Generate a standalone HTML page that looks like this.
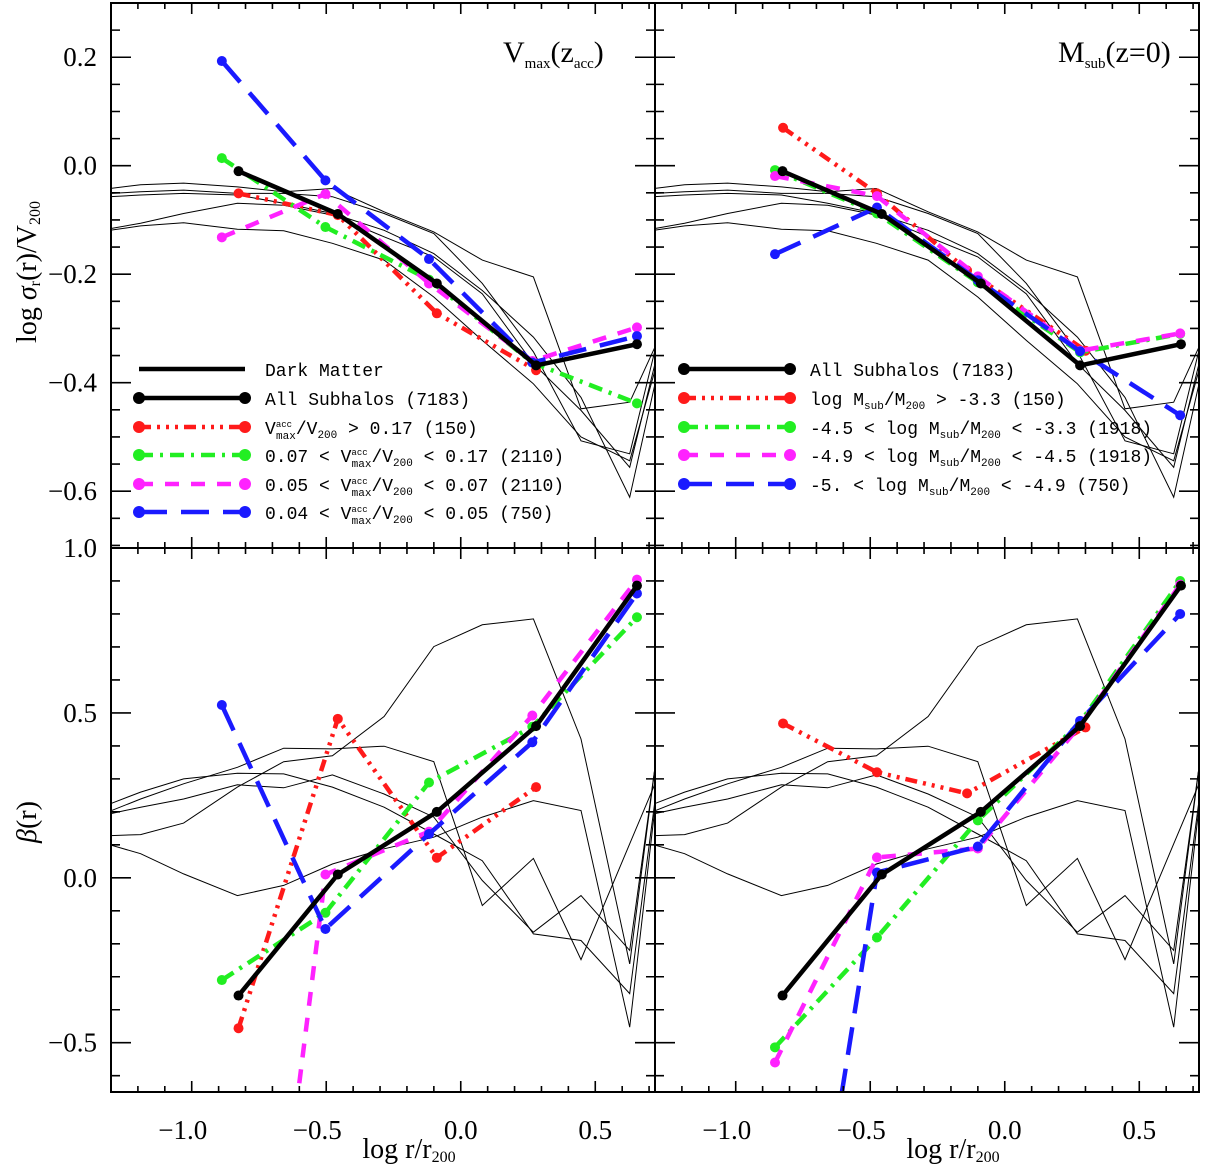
<!DOCTYPE html>
<html><head><meta charset="utf-8"><style>
html,body{margin:0;padding:0;background:#fff;overflow:hidden;width:1205px;height:1166px;}
svg{display:block;font-family:"Liberation Serif","DejaVu Serif",serif;}
</style></head><body>
<svg id="chart" width="1205" height="1166" viewBox="0 0 1205 1166" xmlns="http://www.w3.org/2000/svg"></svg>
<script>
// ---- data ----
const dmX = [-1.304,-1.19,-1.03,-0.83,-0.658,-0.477,-0.285,-0.1,0.08,0.27,0.447,0.628,0.722];
const dmSigma1 = [-0.042,-0.035,-0.032,-0.039,-0.048,-0.042,-0.085,-0.122,-0.174,-0.205,-0.448,-0.436,-0.334];
const dmSigma2 = [-0.051,-0.048,-0.045,-0.051,-0.051,-0.057,-0.088,-0.125,-0.217,-0.343,-0.507,-0.531,-0.340];
const dmSigma3 = [-0.057,-0.054,-0.051,-0.054,-0.069,-0.088,-0.119,-0.162,-0.230,-0.316,-0.427,-0.611,-0.402];
const dmSigma4 = [-0.116,-0.106,-0.088,-0.069,-0.073,-0.091,-0.131,-0.168,-0.236,-0.365,-0.451,-0.556,-0.365];
const dmSigma5 = [-0.119,-0.111,-0.105,-0.117,-0.120,-0.143,-0.174,-0.242,-0.322,-0.402,-0.500,-0.544,-0.377];
const dmBeta1 = [0.128,0.131,0.166,0.275,0.352,0.370,0.489,0.701,0.767,0.785,0.421,-0.261,0.335];
const dmBeta2 = [0.224,0.260,0.300,0.317,0.315,0.275,0.214,0.133,0.052,-0.170,-0.190,-0.351,0.234];
const dmBeta3 = [0.194,0.214,0.239,0.282,0.273,0.312,0.254,0.184,-0.008,-0.165,-0.054,-0.220,0.335];
const dmBeta4 = [0.202,0.239,0.285,0.335,0.393,0.391,0.399,0.352,-0.084,0.059,-0.248,0.103,0.285];
const dmBeta5 = [0.100,0.073,0.012,-0.054,-0.023,0.042,0.088,0.123,0.184,0.234,0.204,-0.453,0.214];

// Vmax panels
const allX = [-0.826,-0.457,-0.089,0.28,0.655];
const allSigma = [-0.010,-0.089,-0.217,-0.368,-0.329];
const allBeta = [-0.357,0.010,0.200,0.460,0.886];
const vRedX = [-0.826,-0.457,-0.089,0.28];
const vRedSigma = [-0.051,-0.091,-0.272,-0.377];
const vRedBeta = [-0.456,0.482,0.061,0.275];
const vX = [-0.888,-0.503,-0.118,0.266,0.655];
const vGreenSigma = [0.014,-0.113,-0.210,-0.363,-0.438];
const vGreenBeta = [-0.31,-0.106,0.289,0.458,0.79];
const vMagentaSigma = [-0.132,-0.052,-0.217,-0.360,-0.298];
const vMagentaBeta = [-2.5,0.010,0.140,0.492,0.904];
const vBlueSigma = [0.193,-0.027,-0.172,-0.363,-0.314];
const vBlueBeta = [0.524,-0.155,0.133,0.411,0.862];

// Msub panels
const mRedX = [-0.824,-0.475,-0.14,0.30];
const mRedSigma = [0.070,-0.051,-0.193,-0.341];
const mRedBeta = [0.468,0.320,0.256,0.456];
const mX = [-0.854,-0.475,-0.10,0.28,0.652];
const mGreenSigma = [-0.008,-0.088,-0.215,-0.344,-0.310];
const mGreenBeta = [-0.514,-0.181,0.174,0.471,0.900];
const mMagentaSigma = [-0.019,-0.056,-0.204,-0.341,-0.309];
const mMagentaBeta = [-0.56,0.062,0.089,0.462,0.889];
const mBlueSigma = [-0.163,-0.077,-0.211,-0.342,-0.460];
const mBlueBeta = [-1.92,0.016,0.095,0.476,0.800];

const xTickLabels = ["\u22121.0","\u22120.5","0.0","0.5"];
const xTickValues = [-1.0,-0.5,0.0,0.5];
const sigmaTickValues = [-0.6,-0.4,-0.2,0.0,0.2];
const sigmaTickLabels = ["\u22120.6","\u22120.4","\u22120.2","0.0","0.2"];
const betaTickValues = [-0.5,0.0,0.5,1.0];
const betaTickLabels = ["\u22120.5","0.0","0.5","1.0"];

// ---- drawing ----
const NS="http://www.w3.org/2000/svg";
const svg=document.getElementById('chart');
function mk(tag,attrs,parent){const e=document.createElementNS(NS,tag);for(const k in attrs)e.setAttribute(k,attrs[k]);(parent||svg).appendChild(e);return e;}

const XMIN=-1.3,XMAX=0.722;
const panels={
 tl:{x0:111,x1:655,y0:3,y1:548,ymin:-0.7047,ymax:0.3},
 tr:{x0:655,x1:1199,y0:3,y1:548,ymin:-0.7047,ymax:0.3},
 bl:{x0:111,x1:655,y0:548,y1:1092,ymin:-0.6494,ymax:1.0},
 br:{x0:655,x1:1199,y0:548,y1:1092,ymin:-0.6494,ymax:1.0}
};
function sx(p,v){return p.x0+(v-XMIN)/(XMAX-XMIN)*(p.x1-p.x0);}
function sy(p,v){return p.y1-(v-p.ymin)/(p.ymax-p.ymin)*(p.y1-p.y0);}

const defs=mk('defs',{});
for(const k in panels){const p=panels[k];const c=mk('clipPath',{id:'clip-'+k},defs);mk('rect',{x:p.x0,y:p.y0,width:p.x1-p.x0,height:p.y1-p.y0},c);}

const styles={
 black:{c:'#000',d:''},
 red:{c:'#ff1a1a',d:'12,6,3,6,3,6,3,6'},
 green:{c:'#22ee22',d:'14,7,3,7'},
 magenta:{c:'#ff22ff',d:'14,12'},
 blue:{c:'#1a1aff',d:'28,14'}
};

function drawThin(k,xs,ys,name){
 const p=panels[k];
 const pts=xs.map((x,i)=>sx(p,x).toFixed(1)+','+sy(p,ys[i]).toFixed(1)).join(' ');
 const l=mk('polyline',{points:pts,fill:'none',stroke:'#000','stroke-width':1,'clip-path':'url(#clip-'+k+')'});
 
 
}
function drawSeries(k,xs,ys,st,name){
 const p=panels[k];const s=styles[st];
 const g=mk('g',{'clip-path':'url(#clip-'+k+')'});
 
 
 const pts=xs.map((x,i)=>sx(p,x).toFixed(1)+','+sy(p,ys[i]).toFixed(1)).join(' ');
 const a={points:pts,fill:'none',stroke:s.c,'stroke-width':4.5,'stroke-linejoin':'round'};
 if(s.d)a['stroke-dasharray']=s.d;
 mk('polyline',a,g);
 xs.forEach((x,i)=>{const m=mk('circle',{cx:sx(p,x),cy:sy(p,ys[i]),r:5,fill:s.c},g);
  
  });
}

const dmS=[dmSigma1,dmSigma2,dmSigma3,dmSigma4,dmSigma5];
const dmB=[dmBeta1,dmBeta2,dmBeta3,dmBeta4,dmBeta5];
['tl','tr'].forEach(k=>dmS.forEach((a,i)=>drawThin(k,dmX,a,'dark-matter-sigma-'+(i+1))));
['bl','br'].forEach(k=>dmB.forEach((a,i)=>drawThin(k,dmX,a,'dark-matter-beta-'+(i+1))));

drawSeries('tl',vRedX,vRedSigma,'red','vmax-high-sigma');
drawSeries('tl',vX,vGreenSigma,'green','vmax-mid-sigma');
drawSeries('tl',vX,vMagentaSigma,'magenta','vmax-low-sigma');
drawSeries('tl',vX,vBlueSigma,'blue','vmax-lowest-sigma');
drawSeries('tl',allX,allSigma,'black','all-subhalos-sigma');
drawSeries('bl',vRedX,vRedBeta,'red','vmax-high-beta');
drawSeries('bl',vX,vGreenBeta,'green','vmax-mid-beta');
drawSeries('bl',vX,vMagentaBeta,'magenta','vmax-low-beta');
drawSeries('bl',vX,vBlueBeta,'blue','vmax-lowest-beta');
drawSeries('bl',allX,allBeta,'black','all-subhalos-beta');
drawSeries('tr',mRedX,mRedSigma,'red','msub-high-sigma');
drawSeries('tr',mX,mGreenSigma,'green','msub-mid-sigma');
drawSeries('tr',mX,mMagentaSigma,'magenta','msub-low-sigma');
drawSeries('tr',mX,mBlueSigma,'blue','msub-lowest-sigma');
drawSeries('tr',allX,allSigma,'black','all-subhalos-sigma-msub');
drawSeries('br',mRedX,mRedBeta,'red','msub-high-beta');
drawSeries('br',mX,mGreenBeta,'green','msub-mid-beta');
drawSeries('br',mX,mMagentaBeta,'magenta','msub-low-beta');
drawSeries('br',mX,mBlueBeta,'blue','msub-lowest-beta');
drawSeries('br',allX,allBeta,'black','all-subhalos-beta-msub');

function axes(k,yMinorStep,yMajorVals){
 const p=panels[k];
 const f=mk('rect',{x:p.x0,y:p.y0,width:p.x1-p.x0,height:p.y1-p.y0,fill:'none',stroke:'#000','stroke-width':2});
 
 
 let d='';
 for(let i=-13;i<=7;i++){const v=i/10;const X=sx(p,v);const maj=(i%5===0);const L=maj?11:6;
  d+=`M${X},${p.y1}v${-L}M${X},${p.y0}v${L}`;}
 const n0=Math.ceil(p.ymin/yMinorStep-1e-6),n1=Math.floor(p.ymax/yMinorStep+1e-6);
 for(let i=n0;i<=n1;i++){const v=i*yMinorStep;const Y=sy(p,v);
  const maj=yMajorVals.some(m=>Math.abs(m-v)<1e-6);const L=maj?20:9;
  d+=`M${p.x0},${Y}h${L}M${p.x1},${Y}h${-L}`;}
 mk('path',{d:d,stroke:'#000','stroke-width':1.6,fill:'none'});
}
axes('tl',0.05,sigmaTickValues);
axes('tr',0.05,sigmaTickValues);
axes('bl',0.1,betaTickValues);
axes('br',0.1,betaTickValues);

function txt(x,y,s,name,extra){const t=mk('text',Object.assign({x:x,y:y,'font-size':27,fill:'#000'},extra||{}));t.innerHTML=s;
 
 return t;}

sigmaTickValues.forEach((v,i)=>txt(97,sy(panels.tl,v)+9,sigmaTickLabels[i],'y-tick-label-sigma',{'text-anchor':'end'}));
betaTickValues.forEach((v,i)=>txt(97,sy(panels.bl,v)+9,betaTickLabels[i],'y-tick-label-beta',{'text-anchor':'end'}));
['bl','br'].forEach(k=>xTickValues.forEach((v,i)=>{
 const lab=xTickLabels[i];const off=lab.startsWith('\u2212')?-9:0;
 txt(sx(panels[k],v)+off,1139,lab,'x-tick-label',{'text-anchor':'middle'});}));

txt(409,1158,'log r/r<tspan font-size="16" dy="4">200</tspan>','x-axis-title-left',{'text-anchor':'middle','font-size':28});
txt(953,1158,'log r/r<tspan font-size="16" dy="4">200</tspan>','x-axis-title-right',{'text-anchor':'middle','font-size':28});
txt(0,0,'log <tspan font-style="italic">σ</tspan><tspan font-size="16" dy="4">r</tspan><tspan dy="-4">(r)/V</tspan><tspan font-size="16" dy="4">200</tspan>','y-axis-title-sigma',{'text-anchor':'middle','font-size':28,transform:'translate(36,272) rotate(-90)'});
txt(0,0,'<tspan font-style="italic">β</tspan>(r)','y-axis-title-beta',{'text-anchor':'middle','font-size':28,transform:'translate(36,822) rotate(-90)'});

txt(503,62,'V<tspan font-size="15" dy="6">max</tspan><tspan dy="-6">(z</tspan><tspan font-size="15" dy="6">acc</tspan><tspan dy="-6">)</tspan>','panel-label-vmax',{'font-size':30});
txt(1058,62,'M<tspan font-size="15" dy="6">sub</tspan><tspan dy="-6">(z=0)</tspan>','panel-label-msub',{'font-size':30});

function legendRow(x0,x1,y,st,label,name,marker){
 const s=styles[st];
 const g=mk('g',{});
 
 
 const a={x1:x0,y1:y,x2:x1,y2:y,stroke:s.c,'stroke-width':4.5};
 if(s.d)a['stroke-dasharray']=s.d;
 mk('line',a,g);
 if(marker){mk('circle',{cx:x0,cy:y,r:6,fill:s.c},g);mk('circle',{cx:x1,cy:y,r:6,fill:s.c},g);}
 const t=mk('text',{x:x1+20,y:y+7,'font-size':18,fill:'#000','font-family':'"Liberation Mono","DejaVu Sans Mono",monospace'},g);t.innerHTML=label;
}
const vsub='V<tspan font-size="9" dy="-7">acc</tspan><tspan font-size="11" dx="-16" dy="12">max</tspan><tspan dy="-5">/V</tspan><tspan font-size="11" dy="4">200</tspan><tspan dy="-4">';
legendRow(139,245,369,'black','Dark Matter','legend-dark-matter',false);
legendRow(139,245,398,'black','All Subhalos (7183)','legend-all-subhalos',true);
legendRow(139,245,427,'red',vsub+' &gt; 0.17 (150)</tspan>','legend-vmax-high',true);
legendRow(139,245,455,'green','0.07 &lt; '+vsub+' &lt; 0.17 (2110)</tspan>','legend-vmax-mid',true);
legendRow(139,245,484,'magenta','0.05 &lt; '+vsub+' &lt; 0.07 (2110)</tspan>','legend-vmax-low',true);
legendRow(139,245,512,'blue','0.04 &lt; '+vsub+' &lt; 0.05 (750)</tspan>','legend-vmax-lowest',true);
const msub='M<tspan font-size="11" dy="4">sub</tspan><tspan dy="-4">/M</tspan><tspan font-size="11" dy="4">200</tspan><tspan dy="-4">';
legendRow(684,790,369,'black','All Subhalos (7183)','legend-all-subhalos-msub',true);
legendRow(684,790,398,'red','log '+msub+' &gt; -3.3 (150)</tspan>','legend-msub-high',true);
legendRow(684,790,427,'green','-4.5 &lt; log '+msub+' &lt; -3.3 (1918)</tspan>','legend-msub-mid',true);
legendRow(684,790,455,'magenta','-4.9 &lt; log '+msub+' &lt; -4.5 (1918)</tspan>','legend-msub-low',true);
legendRow(684,790,484,'blue','-5. &lt; log '+msub+' &lt; -4.9 (750)</tspan>','legend-msub-lowest',true);
</script>
</body></html>
